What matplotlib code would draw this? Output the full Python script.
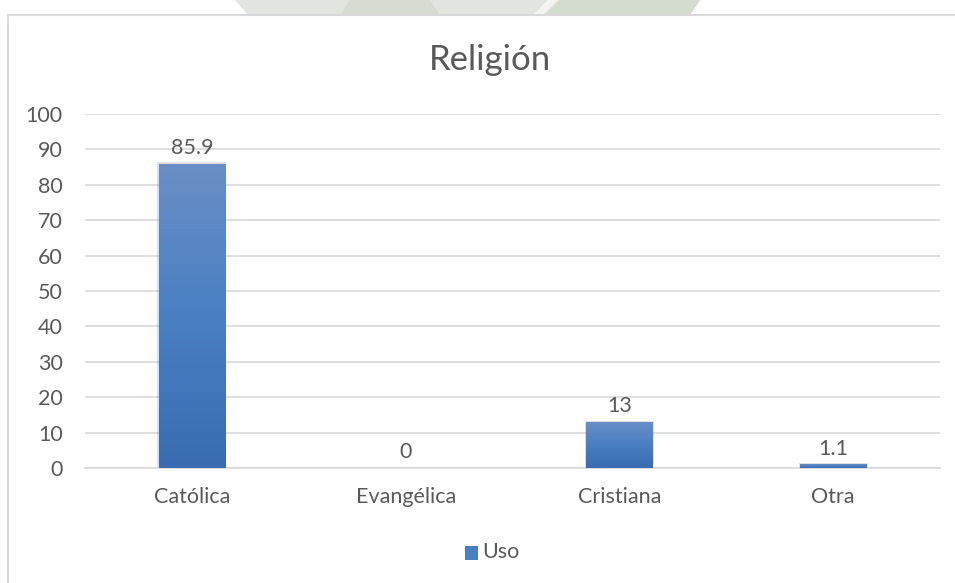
import matplotlib.pyplot as plt
import numpy as np
from matplotlib.colors import LinearSegmentedColormap
from matplotlib.patches import Polygon, Rectangle

categories = ["Católica", "Evangélica", "Cristiana", "Otra"]
uso = [85.9, 0, 13, 1.1]
yticks = [0, 10, 20, 30, 40, 50, 60, 70, 80, 90, 100]

TEXT = "#595959"
GRID = "#d9d9d9"
plt.rcParams["font.family"] = ["Lato", "DejaVu Sans"]

fig = plt.figure(figsize=(9.55, 5.83), dpi=100)
W, H = 955, 583


def fx(px):
    return px / W


def fy(py):
    return 1 - py / H


# faint watermark strip above the chart frame
shapes = [
    ([(235, 0), (700, 0), (690, 15), (248, 15)], "#e2e5df"),
    ([(350, 0), (430, 0), (440, 15), (340, 15)], "#d6dcd1"),
    ([(560, 0), (700, 0), (690, 15), (545, 15)], "#d4dbcf"),
    ([(548, 0), (558, 0), (543, 15), (533, 15)], "#f4f5f3"),
]
for pts, col in shapes:
    fig.patches.append(Polygon([(fx(x), fy(y)) for x, y in pts], closed=True,
                               transform=fig.transFigure, facecolor=col,
                               edgecolor="none", zorder=0))

# chart frame (left and top edges visible)
fig.add_artist(plt.Line2D([fx(8), fx(8)], [fy(15), 0], color=GRID, lw=1.5,
                          transform=fig.transFigure))
fig.add_artist(plt.Line2D([fx(8), 1], [fy(15), fy(15)], color=GRID, lw=1.5,
                          transform=fig.transFigure))

ax = fig.add_axes([fx(85), fy(468), fx(940) - fx(85), fy(114) - fy(468)])
ax.set_xlim(-0.5, len(categories) - 0.5)
ax.set_ylim(0, 100)
x = np.arange(len(categories))
width = 0.31

cmap = LinearSegmentedColormap.from_list("bar", ["#3a6bb0", "#4a7fc2", "#6a8fc6"])
grad = np.linspace(0, 1, 256).reshape(-1, 1)
bars = ax.bar(x, uso, width=width, color="none", edgecolor="none", zorder=3)
for bar, v in zip(bars, uso):
    if v <= 0:
        continue
    x0, w = bar.get_x(), bar.get_width()
    # soft shadow
    ax.add_patch(Rectangle((x0 - 0.006, 0), w + 0.012, v + 0.4, facecolor="#000000",
                           alpha=0.12, edgecolor="none", zorder=2))
    im = ax.imshow(grad, extent=(x0, x0 + w, 0, v), origin="lower", cmap=cmap,
                   aspect="auto", zorder=3)
    im.set_clip_path(bar)

for xi, v in zip(x, uso):
    ax.annotate(f"{v:g}", (xi, v), xytext=(0, 4), textcoords="offset points",
                ha="center", va="bottom", fontsize=15.5, color=TEXT)

ax.set_yticks(yticks)
ax.set_xticks(x, categories)
ax.grid(axis="y", color=GRID, lw=1.2, zorder=0)
ax.set_axisbelow(True)
for s in ax.spines.values():
    s.set_visible(False)
ax.spines["bottom"].set_visible(True)
ax.spines["bottom"].set_color(GRID)
ax.spines["bottom"].set_linewidth(1.2)
ax.tick_params(axis="both", length=0, labelsize=15.5, colors=TEXT)
ax.tick_params(axis="y", pad=16)
ax.tick_params(axis="x", pad=14)

fig.text(fx(490), fy(60), "Religión", ha="center", va="center", fontsize=25,
         color=TEXT)

# legend
fig.patches.append(Rectangle((fx(465), fy(560)), fx(13), fy(546) - fy(560),
                             transform=fig.transFigure, facecolor="#4a7fc2",
                             edgecolor="none"))
fig.text(fx(482), fy(552), "Uso", ha="left", va="center", fontsize=15.5, color=TEXT)

fig.savefig("out.png", dpi=100, facecolor="white")
